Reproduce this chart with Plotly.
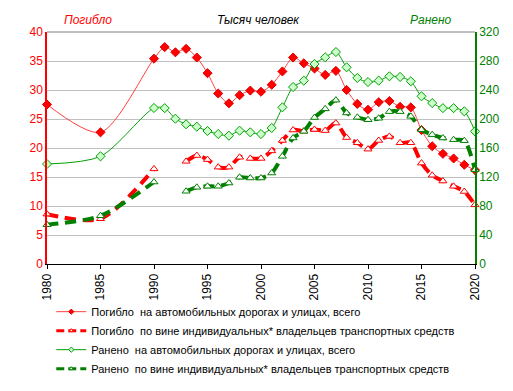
import plotly.graph_objects as go

years_total = [1980, 1985] + list(range(1990, 2021))
killed_total = [27.5, 22.7, 35.4, 37.4, 36.5, 37.1, 35.6, 32.9, 29.4, 27.7, 29.1, 29.9, 29.7,
                30.9, 33.2, 35.6, 34.6, 33.7, 32.6, 33.3, 30.0, 27.6, 26.6, 27.9, 28.1, 27.1, 27.0,
                23.1, 20.3, 19.0, 18.2, 17.1, 16.2]
wounded_total = [137.9, 148.5, 215.2, 215.0, 200.4, 192.7, 189.4, 183.4, 179.3, 177.0, 183.9, 181.6, 179.3,
                 187.6, 216.1, 244.1, 252.9, 275.9, 285.1, 292.4, 271.3, 256.6, 251.0, 252.9, 258.9, 258.0, 252.0,
                 231.3, 222.0, 215.0, 215.0, 210.6, 183.0]

years_indiv = [1980, 1985, 1990, 1991, 1992] + list(range(1993, 2021))
killed_indiv = [8.6, 7.8, 16.4, None, None, 17.7, 18.7, 18.0, 16.7, 16.7, 18.4, 18.2, 18.2,
                19.5, 21.3, 23.1, 22.9, 23.2, 23.0, 24.3, 21.8, 20.9, 19.8, 21.3, 22.0, 20.9, 20.9,
                17.4, 15.3, 14.3, 13.4, 12.5, 10.2]
wounded_indiv = [54.2, 66.6, 113.1, None, None, 100.3, 105.8, 107.2, 107.2, 111.7, 119.6, 118.6, 118.6,
                 125.5, 148.5, 173.8, 183.0, 202.0, 214.0, 226.0, 208.3, 202.3, 199.0, 201.0, 210.2, 210.2, 203.7,
                 185.3, 178.4, 173.8, 171.5, 170.1, 130.1]

names = [
    "Погибло\u00a0 на автомобильных дорогах и улицах, всего",
    "Погибло\u00a0 по вине индивидуальных* владельцев транспортных средств",
    "Ранено\u00a0 на автомобильных дорогах и улицах, всего",
    "Ранено\u00a0 по вине индивидуальных* владельцев транспортных средств",
]
x_ticks = list(range(1980, 2021, 5))

RED = "#ff0000"
GREEN = "#008000"

styles = [
    dict(line=dict(color="#ff4040", width=1, shape="spline", smoothing=0.8),
         marker=dict(symbol="diamond", color=RED, line=dict(color="#e00000", width=1))),
    dict(line=dict(color=RED, width=4, shape="spline", smoothing=0.8, dash="11px,7px"),
         marker=dict(symbol="triangle-up", color="white", line=dict(color=RED, width=1))),
    dict(line=dict(color="#00a000", width=1, shape="spline", smoothing=0.8),
         marker=dict(symbol="diamond", color="#ccffcc", line=dict(color="#00a000", width=1))),
    dict(line=dict(color=GREEN, width=4, shape="spline", smoothing=0.8, dash="11px,7px"),
         marker=dict(symbol="triangle-up", color="white", line=dict(color=GREEN, width=1))),
]
series = [(years_total, killed_total, "y"), (years_indiv, killed_indiv, "y"),
          (years_total, wounded_total, "y2"), (years_indiv, wounded_indiv, "y2")]

fig = go.Figure()
for i, (xs, ys, ax) in enumerate(series):
    st = styles[i]
    mk = dict(st["marker"]); mk["size"] = 7
    fig.add_trace(go.Scatter(x=xs, y=ys, name=names[i], mode="lines+markers", yaxis=ax,
                             connectgaps=False, line=st["line"], marker=mk,
                             cliponaxis=False, showlegend=False))
# legend-only entries with small markers
for i in range(4):
    st = styles[i]
    mk = dict(st["marker"]); mk["size"] = 4
    ln = dict(st["line"])
    if ln["width"] == 4:
        ln["width"] = 3
        ln["dash"] = "8px,4px"
    fig.add_trace(go.Scatter(x=[None], y=[None], name=names[i], mode="lines+markers",
                             line=ln, marker=mk, showlegend=True,
                             yaxis=series[i][2]))

font = "Liberation Sans, Arial, sans-serif"
fig.update_layout(
    width=513, height=391,
    margin=dict(l=39, r=46, t=24, b=135, autoexpand=False),
    paper_bgcolor="white", plot_bgcolor="white",
    font=dict(family=font, size=12, color="black"),
    showlegend=True,
    legend=dict(x=0.01, xref="paper", y=-0.143, yanchor="top", xanchor="left",
                font=dict(size=11, color="black"), tracegroupgap=0, itemwidth=30,
                bgcolor="rgba(0,0,0,0)"),
    xaxis=dict(range=[1980, 2020], tickvals=x_ticks, ticktext=[str(v) for v in x_ticks],
               tickangle=-90, ticks="outside", ticklen=4, tickcolor="black",
               showline=True, linecolor="black", linewidth=1, showgrid=False, zeroline=False,
               tickfont=dict(size=12, color="black"), mirror=False),
    yaxis=dict(range=[0, 40], dtick=5, showgrid=True, gridcolor="#c0c0c0", gridwidth=1,
               showline=True, linecolor=RED, linewidth=1.5, zeroline=False,
               tickfont=dict(size=12, color=RED), ticks=""),
    yaxis2=dict(range=[0, 320], dtick=40, overlaying="y", side="right", showgrid=False,
                showline=True, linecolor=GREEN, linewidth=1.5, zeroline=False,
                tickfont=dict(size=12, color=GREEN), ticks=""),
    shapes=[dict(type="line", xref="paper", yref="paper", x0=0, x1=1, y0=1, y1=1,
                 line=dict(color="#808080", width=1))],
    annotations=[
        dict(text="<i>Погибло</i>", x=0.035, y=1.0, xref="paper", yref="paper", xanchor="left",
             yanchor="bottom", yshift=3, showarrow=False, font=dict(size=12, color=RED)),
        dict(text="<i>Тысяч человек</i>", x=0.493, y=1.0, xref="paper", yref="paper", xanchor="center",
             yanchor="bottom", yshift=3, showarrow=False, font=dict(size=12, color="black")),
        dict(text="<i>Ранено</i>", x=0.898, y=1.0, xref="paper", yref="paper", xanchor="center",
             yanchor="bottom", yshift=3, showarrow=False, font=dict(size=12, color=GREEN)),
    ],
)

fig.write_html("out.html")
